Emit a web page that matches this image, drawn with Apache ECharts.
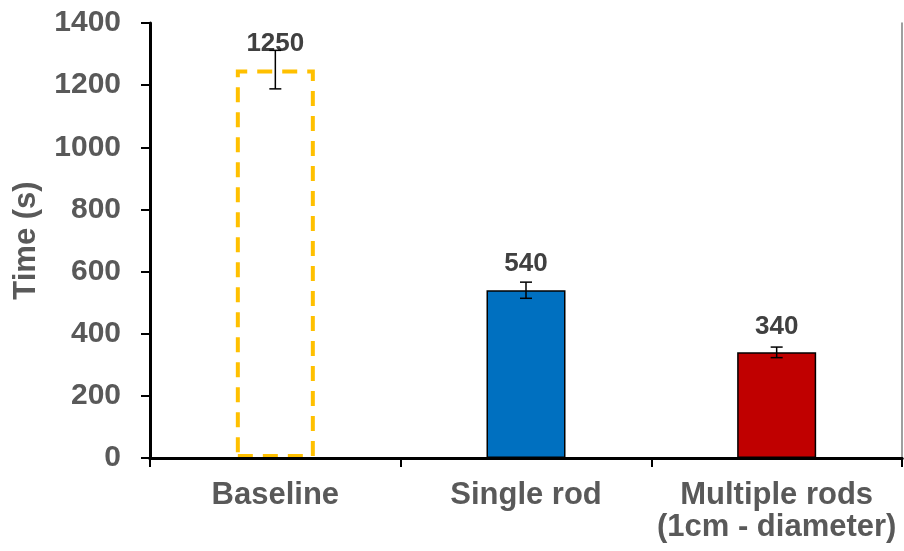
<!DOCTYPE html>
<html><head><meta charset="utf-8">
<script src="https://cdn.jsdelivr.net/npm/echarts@6/dist/echarts.min.js"></script>
<style>html,body{margin:0;padding:0;background:#fff}#c{width:904px;height:551px}</style>
</head><body><div id="c"></div>
<script>
const categories = ['Baseline', 'Single rod', 'Multiple rods\n(1cm - diameter)'];
const values = [1250, 540, 340];
const errors = [62, 26, 17];
const yTicks = { min: 0, max: 1400, interval: 200 };
const FONT = '"Liberation Sans", Arial, sans-serif';

const chart = echarts.init(document.getElementById('c'));
const barData = values.map((v, i) => {
  if (i === 0) return { value: v, itemStyle: { color: 'rgba(0,0,0,0)', borderColor: '#FFC000', borderWidth: 4, borderType: [15, 10] } };
  if (i === 1) return { value: v, itemStyle: { color: '#0070C0', borderColor: '#000', borderWidth: 1.5 } };
  return { value: v, itemStyle: { color: '#C00000', borderColor: '#000', borderWidth: 1.5 } };
});
const errData = values.map((v, i) => [i, v - errors[i], v + errors[i]]);

chart.setOption({
  animation: false,
  grid: { left: 150, right: 2, top: 23, bottom: 93, containLabel: false, outerBoundsMode: 'none' },
  xAxis: [{
    type: 'category', data: categories, z: 10,
    axisLine: { lineStyle: { color: '#000', width: 3 } },
    axisTick: { show: true, length: 9, lineStyle: { color: '#000', width: 2 } },
    axisLabel: { interval: 0, color: '#595959', fontFamily: FONT, fontWeight: 'bold', fontSize: 31, margin: 21, lineHeight: 32 }
  }, {
    type: 'category', position: 'top', data: categories,
    axisLine: { show: true, lineStyle: { color: '#000', width: 3 } },
    axisTick: { show: false }, axisLabel: { show: false }
  }],
  yAxis: [{
    type: 'value', min: yTicks.min, max: yTicks.max, interval: yTicks.interval, z: 10,
    name: 'Time (s)', nameLocation: 'middle', nameGap: 108, nameRotate: 90,
    nameTextStyle: { color: '#595959', fontFamily: FONT, fontWeight: 'bold', fontSize: 31 },
    axisLine: { show: true, lineStyle: { color: '#000', width: 3 } },
    axisTick: { show: true, length: 9, lineStyle: { color: '#000', width: 2 } },
    splitLine: { show: false },
    axisLabel: { formatter: v => String(v), color: '#595959', fontFamily: FONT, fontWeight: 'bold', fontSize: 30, margin: 29 }
  }, {
    type: 'value', position: 'right', min: yTicks.min, max: yTicks.max, interval: yTicks.interval,
    axisLine: { show: true, lineStyle: { color: '#7f7f7f', width: 1.5 } },
    axisTick: { show: false }, axisLabel: { show: false }, splitLine: { show: false }
  }],
  series: [{
    type: 'bar', data: barData, barWidth: 79, z: 2,
    label: { show: true, position: 'top', distance: 13, color: '#404040', fontFamily: FONT, fontWeight: 'bold', fontSize: 26 }
  }, {
    type: 'custom', z: 5, data: errData,
    renderItem: function (params, api) {
      const x = api.value(0);
      const lo = api.coord([x, api.value(1)]);
      const hi = api.coord([x, api.value(2)]);
      const w = 6;
      const st = { stroke: '#000', lineWidth: 1.5 };
      return { type: 'group', children: [
        { type: 'line', shape: { x1: lo[0], y1: lo[1], x2: hi[0], y2: hi[1] }, style: st },
        { type: 'line', shape: { x1: lo[0] - w, y1: lo[1], x2: lo[0] + w, y2: lo[1] }, style: st },
        { type: 'line', shape: { x1: hi[0] - w, y1: hi[1], x2: hi[0] + w, y2: hi[1] }, style: st }
      ]};
    }
  }]
});
</script></body></html>
